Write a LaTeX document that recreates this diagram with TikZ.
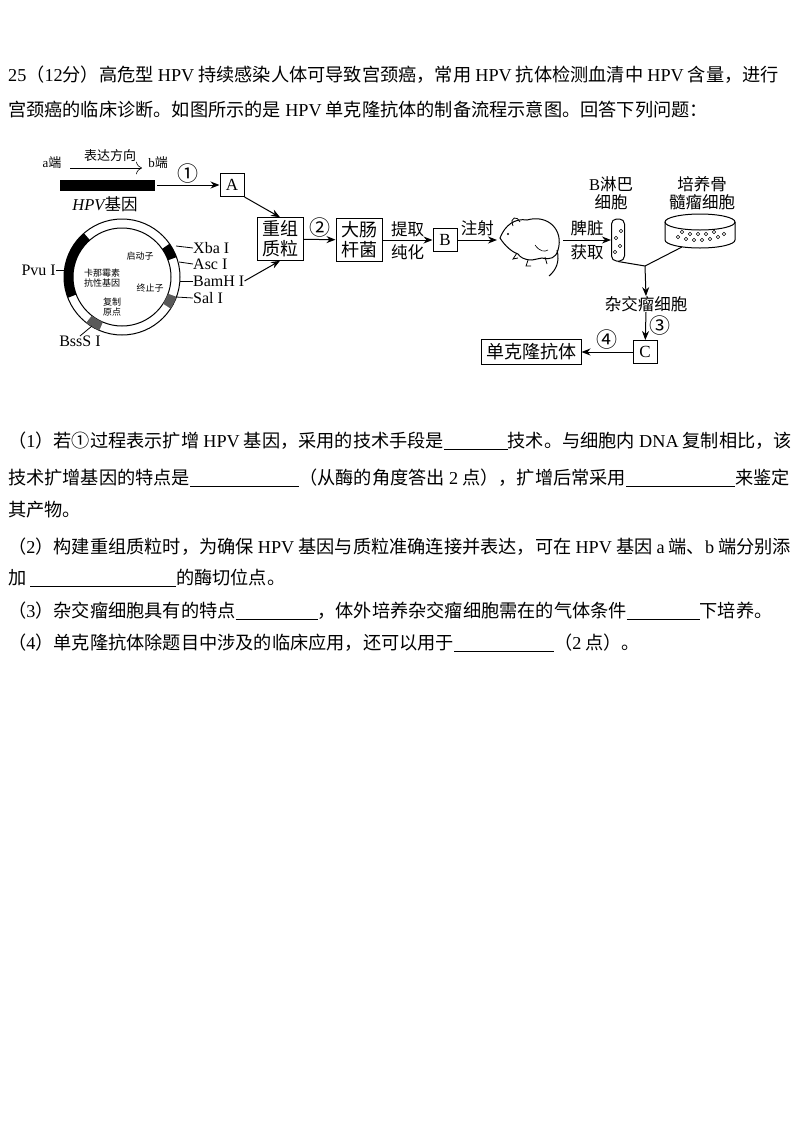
\documentclass[tikz,border=0pt]{standalone}
\usepackage{fontspec}
\setmainfont{Noto Sans CJK SC}
\newfontfamily\lat{Liberation Serif}
\usetikzlibrary{arrows.meta}
\newcommand{\blank}[1]{\underline{\hspace{#1}}}
\begin{document}
\begin{tikzpicture}[x=1pt,y=-1pt,
  txt/.style={anchor=west,inner sep=0pt,font=\fontsize{18.2}{20}\selectfont},
  lab/.style={inner sep=0pt,font=\fontsize{16.5}{18}\selectfont},
  num/.style={inner sep=0pt,font=\fontsize{21}{22}\selectfont},
  small/.style={inner sep=0pt,font=\fontsize{9}{10.5}\selectfont,align=center},
  box/.style={draw,line width=1pt,inner xsep=5pt,inner ysep=3pt,font=\fontsize{18}{20}\selectfont,align=center},
  lbox/.style={draw,line width=1pt,inner sep=0pt,minimum width=24pt,minimum height=23pt,font=\lat\fontsize{17}{18}\selectfont},
  arr/.style={-{Stealth[length=9pt,width=7pt]},line width=1pt}]
\useasboundingbox (0,0) rectangle (800,1130);
% header text
\node[txt] (l1) at (8,75) {{\lat 25}（{\lat 12}分）高危型 {\lat HPV} 持续感染人体可导致宫颈癌，常用 {\lat HPV} 抗体检测血清中 {\lat HPV} 含量，进行};
\node[txt] (l2) at (8,110) {宫颈癌的临床诊断。如图所示的是 {\lat HPV} 单克隆抗体的制备流程示意图。回答下列问题：};
% gene
\node[lab,font=\fontsize{13}{15}\selectfont] (aend) at (52,163) {{\lat a}端};
\node[lab,font=\fontsize{13}{15}\selectfont] (bend) at (158,163) {{\lat b}端};
\node[lab,font=\fontsize{13}{15}\selectfont] (dir) at (110,156) {表达方向};
\coordinate (d1) at (70,168); \coordinate (d2) at (142,168);
\draw[-{To[length=6pt]},line width=0.6pt] (d1) -- (d2);
\fill (60,180) rectangle (155,191);
\coordinate (gend) at (157,185);
\node[lab] (hpv) at (105,204) {{\lat\itshape HPV}基因};
\node[lbox] (A) at (232,185) {A};
\draw[arr] (gend) -- node[above=1pt,num]{①} (A);
\node[box] (cz) at (280,239) {重组\\质粒};
\draw[arr] (A.south east) -- (cz.north);
% plasmid
\begin{scope}[shift={(122,277)}]
\draw[line width=1pt] (0,0) circle (58pt);
\draw[line width=1pt] (0,0) circle (49pt);
\fill (131:49pt) arc[start angle=131,end angle=201,radius=49pt] -- (201:58pt) arc[start angle=201,end angle=131,radius=58pt] -- cycle;
\fill[black!65] (-20:49pt) arc[start angle=-20,end angle=-33,radius=49pt] -- (-33:58pt) arc[start angle=-33,end angle=-20,radius=58pt] -- cycle;
\fill (20:49pt) arc[start angle=20,end angle=35,radius=49pt] -- (35:58pt) arc[start angle=35,end angle=20,radius=58pt] -- cycle;
\fill[black!65] (-113:49pt) arc[start angle=-113,end angle=-128,radius=49pt] -- (-128:58pt) arc[start angle=-128,end angle=-113,radius=58pt] -- cycle;
\end{scope}
\node[small] (qd) at (140,256) {启动子};
\node[small] (kn) at (102,278) {卡那霉素\\抗性基因};
\node[small] (zz) at (150,288) {终止子};
\node[small] (fz) at (112,307) {复制\\原点};
\tikzset{site/.style={inner sep=0pt,anchor=west,font=\lat\fontsize{16}{18}\selectfont}}
\node[site] (xba) at (193,248) {Xba I};
\node[site] (asc) at (193,264) {Asc I};
\node[site] (bam) at (193,281) {BamH I};
\node[site] (sal) at (193,298) {Sal I};
\node[site,anchor=east] (pvu) at (56,270) {Pvu I};
\node[site,anchor=north] (bss) at (80,336) {BssS I};
\coordinate (rx) at (176,246); \coordinate (ra) at (179,262);
\coordinate (rb) at (180,281); \coordinate (rs) at (176,297);
\coordinate (rp) at (64,270); \coordinate (rbs) at (92,326);
\draw[line width=0.8pt] (rx) -- (xba.west); \draw[line width=0.8pt] (ra) -- (asc.west);
\draw[line width=0.8pt] (rb) -- (bam.west); \draw[line width=0.8pt] (rs) -- (sal.west);
\draw[line width=0.8pt] (rp) -- (pvu.east); \draw[line width=0.8pt] (rbs) -- (bss.north);
\draw[arr] (bam.east) -- (cz.south);
% main row
\node[box] (dc) at (359,240) {大肠\\杆菌};
\draw[arr] (cz) -- node[above=2pt,num]{②} (dc);
\node[lbox] (B) at (445,240) {B};
\draw[arr] (dc) -- node[above=3pt,lab]{提取} node[below=4pt,lab]{纯化} (B);
\coordinate (mouse) at (497,240);
\draw[arr] (B) -- node[above=4pt,lab]{注射} (mouse);
% mouse drawing
\draw[line width=1pt,fill=white] (500,238) .. controls (505,225) and (515,218) .. (527,220)
  .. controls (548,214) and (564,230) .. (558,250)
  .. controls (556,258) and (550,260) .. (542,258)
  -- (532,260) .. controls (524,260) and (520,257) .. (518,254)
  .. controls (512,252) and (505,246) .. (500,238) -- cycle;
\draw[line width=1pt] (557,250) .. controls (560,262) and (556,270) .. (549,276);
\draw[line width=0.8pt] (513,226) .. controls (509,216) and (518,216) .. (520,222);
\fill (508,234) circle (1.2pt);
\draw[line width=0.8pt] (528,260) -- (526,266) -- (531,266) (545,257) -- (547,264) (517,253) -- (513,259) -- (518,258);
\draw[line width=0.6pt] (535,245) .. controls (540,252) and (545,252) .. (548,250);
\coordinate (mr) at (563,240);
\node[draw,line width=1pt,rounded corners=5pt,minimum width=13pt,minimum height=42pt,inner sep=0pt] (tube) at (618,240) {};
\foreach \p in {(616,238),(620,246),(615,252),(621,231)} \draw[line width=0.6pt] \p circle (1.8pt);
\draw[arr] (mr) -- node[above=4pt,lab]{脾脏} node[below=4pt,lab]{获取} (tube.west);
\node[lab,align=center] (bl) at (611,193) {{\lat B}淋巴\\细胞};
\node[lab,align=center] (gy) at (702,193) {培养骨\\髓瘤细胞};
% dish
\draw[line width=1pt,fill=white] (665,222) -- (665,240) arc[start angle=180,end angle=360,x radius=35pt,y radius=8pt] -- (735,222);
\draw[line width=1pt] (700,222) ellipse [x radius=35pt,y radius=8pt];
\foreach \x/\y in {678/237, 686/239, 694/240, 702/240, 710/239, 718/237, 682/232, 690/234, 698/234, 706/234, 714/232, 724/234}
  \draw[line width=0.6pt] (\x,\y) circle (1.8pt);
\coordinate (dish) at (682,247);
\coordinate (j) at (645,266);
\draw[line width=1pt] (tube.south) -- (j) -- (dish);
\node[lab] (zj) at (646,304) {杂交瘤细胞};
\draw[arr] (j) -- (zj.north);
\node[lbox] (C) at (645,352) {C};
\draw[arr] (zj.south) -- node[right=3pt,num]{③} (C);
\node[box,minimum width=98pt,minimum height=25pt,inner ysep=0pt] (dk) at (531,352) {单克隆抗体};
\draw[arr] (C) -- node[above=2pt,num]{④} (dk);
% questions
\node[txt] (q1) at (8,441) {（{\lat 1}）若①过程表示扩增 {\lat HPV} 基因，采用的技术手段是\blank{3.5em}技术。与细胞内 {\lat DNA} 复制相比，该};
\node[txt] (q1b) at (8,478) {技术扩增基因的特点是\blank{6em}（从酶的角度答出 {\lat 2} 点），扩增后常采用\blank{6em}来鉴定};
\node[txt] (q1c) at (8,510) {其产物。};
\node[txt] (q2) at (8,547) {（{\lat 2}）构建重组质粒时，为确保 {\lat HPV} 基因与质粒准确连接并表达，可在 {\lat HPV} 基因 {\lat a} 端、{\lat b} 端分别添};
\node[txt] (q2b) at (8,578) {加 \blank{8em}的酶切位点。};
\node[txt] (q3) at (8,611) {（{\lat 3}）杂交瘤细胞具有的特点\blank{4.5em}，体外培养杂交瘤细胞需在的气体条件\blank{4em}下培养。};
\node[txt] (q4) at (8,643) {（{\lat 4}）单克隆抗体除题目中涉及的临床应用，还可以用于\blank{5.5em}（{\lat 2} 点）。};
\end{tikzpicture}
\end{document}
